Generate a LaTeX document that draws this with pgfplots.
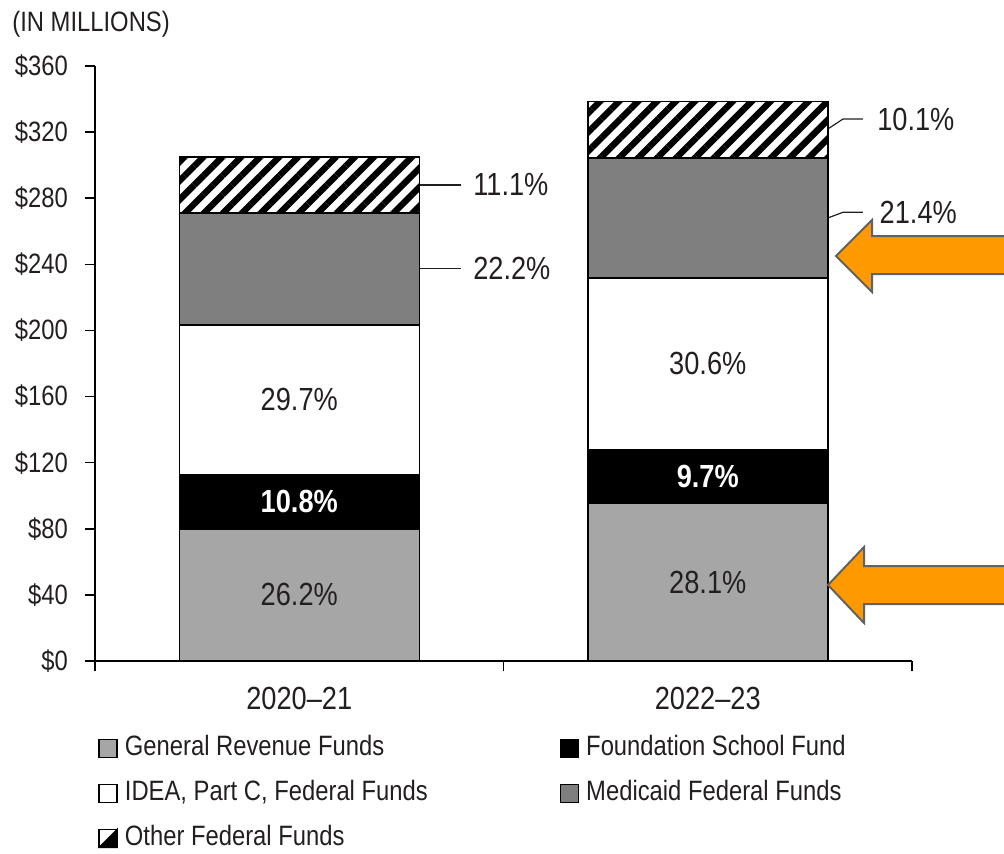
\documentclass[border=0pt]{standalone}
\usepackage{fontspec}
\setmainfont{Liberation Sans}[FakeStretch=0.85]
\usepackage{pgfplots}
\pgfplotsset{compat=1.18}
\usetikzlibrary{patterns.meta}
\definecolor{gr}{HTML}{A6A6A6}
\definecolor{med}{HTML}{7F7F7F}
\definecolor{arrowor}{HTML}{FF9900}
\definecolor{arrowedge}{HTML}{5F6368}
\definecolor{txt}{HTML}{231F20}
\tikzset{pct/.style={font=\fontsize{16}{18}\selectfont, text=txt},
         pctw/.style={font=\fontsize{16}{18}\selectfont\bfseries, text=white},
         lead/.style={line width=0.6pt, draw=txt}}
\begin{document}
\begin{tikzpicture}[x=1pt,y=1pt]
\useasboundingbox (0,0) rectangle (502,426.5);
\node[anchor=west, font=\fontsize{14}{16}\selectfont, text=txt, inner sep=0pt] at (6,414.5) {(IN MILLIONS)};
\begin{axis}[
  at={(47.5pt,96pt)}, anchor=south west,
  scale only axis, width=408.5pt, height=297.5pt,
  xmin=-0.5, xmax=1.5, ymin=0, ymax=360,
  axis x line*=bottom, axis y line*=left,
  axis line style={line width=0.8pt, black, -},
  ybar stacked, bar width=120pt,
  xtick={-0.5,0.5,1.5}, xticklabels={},
  extra x ticks={0,1}, extra x tick labels={2020--21,2022--23},
  extra x tick style={major tick length=0pt, xticklabel style={font=\fontsize{16}{18}\selectfont, text=txt, yshift=-9.5pt}},
  ytick={0,40,...,360},
  yticklabels={\$0,\$40,\$80,\$120,\$160,\$200,\$240,\$280,\$320,\$360},
  tick align=outside, major tick length=5pt,
  tick style={line width=0.8pt, black},
  yticklabel style={font=\fontsize{14}{16}\selectfont, text=txt, xshift=-5pt},
  clip=false,
  legend columns=2,
  legend style={draw=none, fill=none, at={(0,0)}, anchor=north west,
    xshift=1.5pt, yshift=-37pt, inner sep=0pt,
    font=\fontsize{14}{16}\selectfont, text=txt,
    nodes={inner xsep=0pt, inner ysep=0pt, text height=10pt, text depth=3pt},
    row sep=9.5pt,
    /tikz/every odd column/.append style={column sep=3.5pt},
    /tikz/every even column/.append style={column sep=66pt}},
  legend cell align=left,
  legend image code/.code={\draw[#1, draw=black, line width=0.7pt] (0pt,-4.5pt) rectangle (9pt,4.5pt);},
]
\addplot[fill=gr, draw=black, line width=0.75pt] coordinates {(0,79.9) (1,95.2)};
\addlegendentry{General Revenue Funds}
\addplot[fill=black, draw=black, line width=0.75pt] coordinates {(0,32.9) (1,32.9)};
\addlegendentry{Foundation School Fund}
\addplot[fill=white, draw=black, line width=0.75pt] coordinates {(0,90.6) (1,103.7)};
\addlegendentry{IDEA, Part C, Federal Funds}
\addplot[fill=med, draw=black, line width=0.75pt] coordinates {(0,67.7) (1,72.5)};
\addlegendentry{Medicaid Federal Funds}
\addplot[draw=black, line width=0.75pt, pattern={Lines[angle=45,distance=6.7pt,line width=3.2pt]}, pattern color=black,
  legend image code/.code={\draw[fill=white, draw=black, line width=0.7pt] (0pt,-4.5pt) rectangle (9pt,4.5pt); \fill[black] (0pt,-4.5pt) -- (9pt,-4.5pt) -- (9pt,4.5pt) -- cycle;}]
  coordinates {(0,33.9) (1,34.2)};
\addlegendentry{Other Federal Funds}
\coordinate (l1) at (axis cs:0,40);
\coordinate (l2) at (axis cs:0,96.35);
\coordinate (l3) at (axis cs:0,158.1);
\coordinate (l4) at (axis cs:1,47.6);
\coordinate (l5) at (axis cs:1,111.65);
\coordinate (l6) at (axis cs:1,179.95);
\draw[lead] (axis cs:0.294,288.05) -- (axis cs:0.396,288.05);
\node[pct, anchor=west, inner sep=0pt] at (axis cs:0.425,288.05) {11.1\%};
\draw[lead] (axis cs:0.294,237.25) -- (axis cs:0.396,237.25);
\node[pct, anchor=west, inner sep=0pt] at (axis cs:0.425,237.25) {22.2\%};
\draw[lead] (axis cs:1.294,321.9) -- (axis cs:1.331,327.9) -- (axis cs:1.38,327.9);
\node[pct, anchor=west, inner sep=0pt] at (axis cs:1.414,327.9) {10.1\%};
\draw[lead] (axis cs:1.294,268.05) -- (axis cs:1.331,271.5) -- (axis cs:1.38,271.5);
\node[pct, anchor=west, inner sep=0pt] at (axis cs:1.42,271.5) {21.4\%};
\end{axis}
\node[pct] at (l1) {26.2\%};
\node[pctw] at (l2) {10.8\%};
\node[pct] at (l3) {29.7\%};
\node[pct] at (l4) {28.1\%};
\node[pctw] at (l5) {9.7\%};
\node[pct] at (l6) {30.6\%};
\filldraw[fill=arrowor, draw=arrowedge, line width=1pt, line join=miter]
  (508,308.5) -- (436,308.5) -- (436,316.5) -- (418,298.5) -- (436,280.5) -- (436,289.5) -- (508,289.5);
\filldraw[fill=arrowor, draw=arrowedge, line width=1pt, line join=miter]
  (508,143.5) -- (432,143.5) -- (432,153) -- (414,134) -- (432,115) -- (432,124.5) -- (508,124.5);
\end{tikzpicture}
\end{document}
